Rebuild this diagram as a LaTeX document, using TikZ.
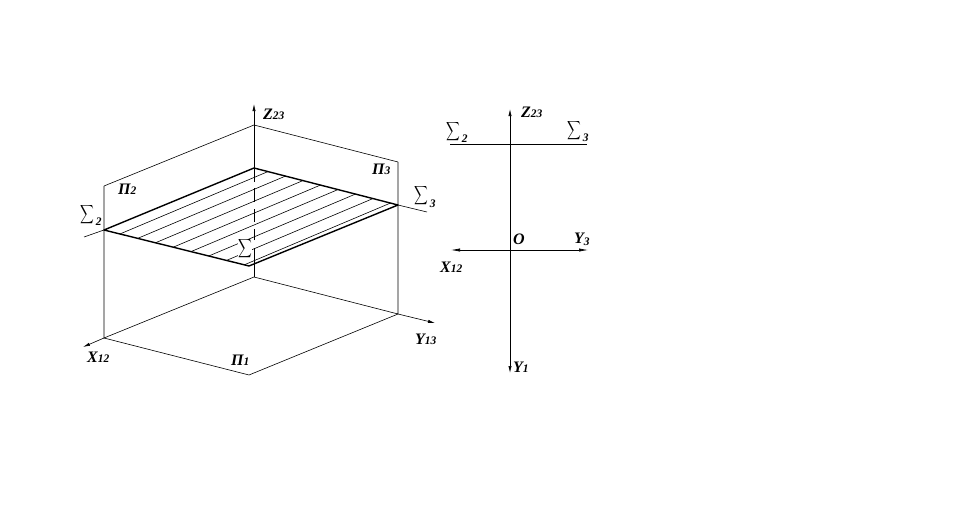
\documentclass[tikz,border=0pt]{standalone}
\usepackage{fontspec}
\setmainfont{Liberation Serif}
\usetikzlibrary{arrows.meta,calc}
\newcommand{\lbl}[2]{\textbf{\textit{\fontsize{16}{16}\selectfont #1\fontsize{11.5}{11.5}\selectfont #2}}}
\newcommand{\bigsum}{\scalebox{0.95}[1.3]{$\displaystyle\sum$}}
\newcommand{\sumlbl}[1]{\bigsum\kern2pt\raisebox{-8pt}{\textbf{\textit{\fontsize{11.5}{11.5}\selectfont #1}}}}
\tikzset{
  >/.tip={Latex[length=7pt,width=3.2pt]},
  axisline/.style={line width=0.6pt},
  planeline/.style={line width=1.4pt,line join=round},
  label/.style={inner sep=0pt,anchor=base west},
}

\begin{document}
\begin{tikzpicture}[x=1pt,y=-1pt]
    \useasboundingbox (0,0) rectangle (979,511);
    % The three planes
    \coordinate (back) at (254,125);
    \coordinate (left) at (104,186);
    \coordinate (right) at (398,162);
    \coordinate (origin) at (254,277);
    \coordinate (xleft) at (104,338);
    \coordinate (yright) at (398,314);
    \coordinate (front) at (249,375);
    \draw[axisline] (left) -- (back) -- (right);
    \draw[axisline] (left) -- (xleft) -- (origin) -- (yright) -- (right);
    \draw[axisline] (xleft) -- (front) -- (yright);
    % The plane and its hatching
    \coordinate (sa) at (254,168);
    \coordinate (sb) at (398,205);
    \coordinate (sc) at (249,266);
    \coordinate (sd) at (104,230);
    \foreach \i in {0,...,7}{
      \draw[axisline] ($(sd)!0.11+\i*0.1225!(sc)$) -- ($(sa)!0.097+\i*0.1215!(sb)$);
    }
    \node[fill=white,inner sep=0pt] (sigma) at (245,249) {\bigsum};
    \draw[planeline] (sa) -- (sb) -- (sc) -- (sd) -- cycle;
    \draw[axisline] (84,237) coordinate (tl) -- (sd);
    \draw[axisline] (sb) -- (427,212) coordinate (tr);
    % The axes
    \draw[axisline,->] (origin) -- (254,248) (254,240) -- (254,229) (254,222) -- (254,209)
      (254,202) -- (254,188) (254,182) -- (254,104) coordinate (zaxis);
    \draw[axisline,->] (xleft) -- (83,347) coordinate (xaxis);
    \draw[axisline,->] (yright) -- (435,323) coordinate (yaxis);
    % Labels of the left view
    \node[label] (zlabel) at (263,119) {\lbl{Z}{23}};
    \node[label] (p2) at (118,194) {\lbl{П}{2}};
    \node[label] (p3) at (372,174) {\lbl{П}{3}};
    \node[label] (p1) at (231,365) {\lbl{П}{1}};
    \node[label] (xlabel) at (87,362) {\lbl{X}{12}};
    \node[label] (ylabel) at (415,344) {\lbl{Y}{13}};
    \node[label] (s2) at (80,217.5) {\sumlbl{2}};
    \node[label] (s3) at (414,199) {\sumlbl{3}};
    % The right view
    \coordinate (ztop) at (510,109);
    \coordinate (ybottom) at (510,373);
    \coordinate (xend) at (451,250);
    \coordinate (yend) at (588,250);
    \draw[axisline,<->] (ybottom) -- (ztop);
    \draw[axisline,{Latex[length=9pt,width=3.2pt]}-{Latex[length=9pt,width=3.2pt]}] (xend) -- (yend);
    \draw[axisline] (450,144) coordinate (ta) -- (587,144) coordinate (tb);
    \node[label] (z2) at (521,117) {\lbl{Z}{23}};
    \node[label] (o) at (513,244) {\lbl{O}{}};
    \node[label] (y3) at (574,243) {\lbl{Y}{\raisebox{-2pt}{3}}};
    \node[label] (x2) at (440,272) {\lbl{X}{12}};
    \node[label] (y1) at (513,372) {\lbl{Y}{1}};
    \node[label] (s22) at (446,134.5) {\sumlbl{2}};
    \node[label] (s32) at (567,133.5) {\sumlbl{3}};
\end{tikzpicture}
\end{document}
